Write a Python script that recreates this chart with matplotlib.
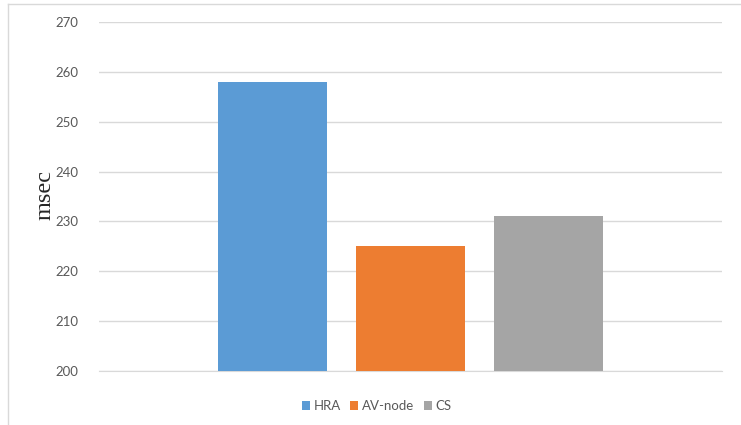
import matplotlib
matplotlib.use("Agg")
import matplotlib.pyplot as plt
from matplotlib.lines import Line2D
from matplotlib.patches import Patch

# Data
series = ["HRA", "AV-node", "CS"]
values = [258, 225, 231]
colors = ["#5B9BD5", "#ED7D31", "#A5A5A5"]
yticks = [200, 210, 220, 230, 240, 250, 260, 270]

W, H = 741, 425
fig = plt.figure(figsize=(W / 100, H / 100), dpi=100)
fig.patch.set_facecolor("white")

left, right, top, bottom = 99 / W, 722 / W, 1 - 22 / H, 1 - 371 / H
ax = fig.add_axes([left, bottom, right - left, top - bottom])

# one category, three series side by side
offsets = [-0.2215, 0.0, 0.2215]
bar_w = 0.175
for off, v, c, name in zip(offsets, values, colors, series):
    ax.bar(off, v - yticks[0], bottom=yticks[0], width=bar_w, color=c,
           label=name, zorder=3)

ax.set_xlim(-0.5, 0.5)
ax.set_ylim(yticks[0], yticks[-1])
ax.set_yticks(yticks)
ax.set_xticks([])
ax.yaxis.grid(True, color="#D9D9D9", linewidth=1.0, zorder=0)
ax.set_axisbelow(True)
for s in ["top", "right", "left"]:
    ax.spines[s].set_visible(False)
ax.spines["bottom"].set_color("#D9D9D9")
ax.tick_params(axis="y", length=0, pad=15, labelsize=9.5, labelcolor="#595959")
for lbl in ax.get_yticklabels():
    lbl.set_fontfamily("Lato")

fig.text(45.5 / W, 1 - 195 / H, "msec", rotation=90, ha="center", va="center",
         fontsize=17.5, family="Liberation Serif", color="#262626")

handles = [Patch(facecolor=c, edgecolor="none") for c in colors]
leg = fig.legend(handles, series, loc="center", bbox_to_anchor=(377 / W, 1 - 406 / H),
                 ncol=3, frameon=False, fontsize=9.5, handlelength=0.6,
                 handleheight=0.6, handletextpad=0.3, columnspacing=0.7)
for t in leg.get_texts():
    t.set_color("#595959")
    t.set_fontfamily("Lato")

# chart frame
fig.add_artist(Line2D([8 / W, 8 / W], [0, 1 - 4 / H], color="#D9D9D9", lw=1.0,
                      transform=fig.transFigure))
fig.add_artist(Line2D([8 / W, 1], [1 - 4 / H, 1 - 4 / H], color="#D9D9D9", lw=1.0,
                      transform=fig.transFigure))

fig.savefig("out.png", dpi=100, facecolor="white")
